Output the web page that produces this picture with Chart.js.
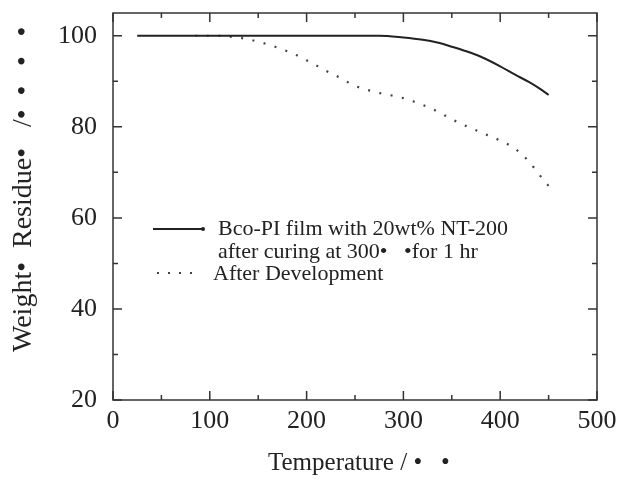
<!DOCTYPE html>
<html>
<head>
<meta charset="utf-8">
<script src="https://cdn.jsdelivr.net/npm/chart.js@4.4.1/dist/chart.umd.min.js"></script>
<style>
  html, body { margin: 0; padding: 0; background: #fff; }
  #wrap { width: 618px; height: 488px; }
</style>
</head>
<body>
<div id="wrap"><canvas id="tgaChart" width="618" height="488"></canvas></div>
<script>
// values
const tempCured = [25, 100, 200, 275, 300, 320, 335, 350, 365, 380, 400, 415, 430, 440, 450];
const weightCured = [100, 100, 100, 100, 99.6, 99.1, 98.5, 97.6, 96.6, 95.4, 93.3, 91.5, 89.8, 88.5, 87];

const tempDev = [85, 100, 110, 120, 130, 140, 150, 160, 170, 180, 190, 200, 210, 220, 230, 240, 250, 260, 270, 280, 290, 300, 310, 320, 330, 340, 350, 360, 370, 380, 390, 400, 410, 420, 430, 440, 450];
const weightDev = [100, 100, 100, 99.8, 99.6, 99.2, 98.7, 98.1, 97.4, 96.6, 95.7, 94.6, 93.5, 92.3, 91.3, 90.1, 89.0, 88.3, 87.7, 87.2, 86.8, 86.3, 85.6, 84.8, 83.9, 82.8, 81.7, 80.6, 79.7, 78.8, 77.9, 77.0, 75.9, 74.4, 72.3, 69.6, 67.0];

const xTicks = [0, 100, 200, 300, 400, 500];
const yTicks = [20, 40, 60, 80, 100];

const legendLines = ['Bco-PI film with 20wt% NT-200', 'after curing at 300\u2022   \u2022for 1 hr', 'After Development'];
const xTitle = 'Temperature / \u2022   \u2022';
const yTitle = 'Weight\u2022  Residue\u2022   /\u2022  \u2022  \u2009\u2022  \u2009\u2022';

const ink = '#222';
const serif = '"Liberation Serif", "DejaVu Serif", serif';

// frame, inward ticks, legend and axis titles
const framePlugin = {
    id: 'framePlugin',
    afterDraw(chart) {
        const ctx = chart.ctx;
        const a = chart.chartArea;
        const xs = chart.scales.x;
        const ys = chart.scales.y;
        ctx.save();
        ctx.strokeStyle = '#333';
        ctx.lineWidth = 1.5;
        ctx.strokeRect(a.left, a.top, a.right - a.left, a.bottom - a.top);

        for (let v = 0; v <= 500; v += 50) {
            const px = xs.getPixelForValue(v);
            const len = v % 100 === 0 ? 9 : 5;
            ctx.beginPath();
            ctx.moveTo(px, a.bottom); ctx.lineTo(px, a.bottom - len);
            ctx.moveTo(px, a.top); ctx.lineTo(px, a.top + len);
            ctx.stroke();
        }
        for (let v = 20; v <= 100; v += 10) {
            const py = ys.getPixelForValue(v);
            const len = v % 20 === 0 ? 9 : 5;
            ctx.beginPath();
            ctx.moveTo(a.left, py); ctx.lineTo(a.left + len, py);
            ctx.moveTo(a.right, py); ctx.lineTo(a.right - len, py);
            ctx.stroke();
        }

        // legend
        ctx.fillStyle = ink;
        ctx.font = '22px ' + serif;
        ctx.textBaseline = 'middle';
        ctx.textAlign = 'left';
        ctx.strokeStyle = '#222';
        ctx.lineWidth = 2;
        ctx.beginPath();
        ctx.moveTo(153, 229); ctx.lineTo(202, 229);
        ctx.stroke();
        ctx.beginPath();
        ctx.arc(203, 229, 2, 0, Math.PI * 2);
        ctx.fill();
        ctx.fillText(legendLines[0], 218, 229);
        ctx.fillText(legendLines[1], 218, 252);
        ctx.strokeStyle = '#444';
        ctx.setLineDash([2, 9]);
        ctx.beginPath();
        ctx.moveTo(157, 273); ctx.lineTo(200, 273);
        ctx.stroke();
        ctx.setLineDash([]);
        ctx.fillText(legendLines[2], 213, 274);

        // axis titles
        ctx.font = '25px ' + serif;
        ctx.fillText(xTitle, 268, 463);
        ctx.font = '28px ' + serif;
        ctx.translate(24, 352);
        ctx.rotate(-Math.PI / 2);
        ctx.fillText(yTitle, 0, 0);
        ctx.restore();
    }
};

const ctx = document.getElementById('tgaChart').getContext('2d');

new Chart(ctx, {
    type: 'line',
    data: {
        datasets: [{
            label: 'cured',
            data: tempCured.map((t, i) => ({ x: t, y: weightCured[i] })),
            borderColor: '#222',
            borderWidth: 2,
            pointRadius: 0,
            cubicInterpolationMode: 'monotone',
            fill: false
        }, {
            label: 'developed',
            data: tempDev.map((t, i) => ({ x: t, y: weightDev[i] })),
            borderColor: '#444',
            borderWidth: 2.2,
            borderDash: [2, 9.5],
            pointRadius: 0,
            cubicInterpolationMode: 'monotone',
            fill: false
        }]
    },
    options: {
        responsive: false,
        animation: false,
        layout: { padding: { top: 13, right: 21, left: 0, bottom: 0 } },
        plugins: {
            legend: { display: false },
            tooltip: { enabled: false }
        },
        scales: {
            x: {
                type: 'linear',
                min: 0,
                max: 500,
                afterBuildTicks: s => { s.ticks = xTicks.map(v => ({ value: v })); },
                afterFit: s => {
                    s.height = 88;
                    s.paddingLeft = 0;
                    s.paddingRight = 0;
                },
                grid: { display: false, drawTicks: false },
                border: { display: false },
                ticks: {
                    padding: 6,
                    color: ink,
                    font: { family: serif, size: 26 },
                    maxRotation: 0
                }
            },
            y: {
                type: 'linear',
                min: 20,
                max: 105,
                afterBuildTicks: s => { s.ticks = yTicks.map(v => ({ value: v })); },
                afterFit: s => {
                    s.width = 113;
                    s.paddingTop = 0;
                    s.paddingBottom = 0;
                },
                grid: { display: false, drawTicks: false },
                border: { display: false },
                ticks: {
                    padding: 16,
                    color: ink,
                    font: { family: serif, size: 26 }
                }
            }
        }
    },
    plugins: [framePlugin]
});
</script>
</body>
</html>
